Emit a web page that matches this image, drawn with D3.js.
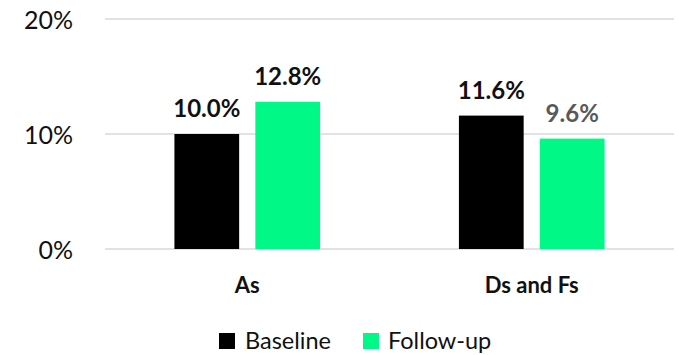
<!DOCTYPE html>
<html>
<head>
<meta charset="utf-8">
<script src="https://cdn.jsdelivr.net/npm/d3@7"></script>
<style>
  html, body { margin: 0; padding: 0; background: #fff; }
  svg { display: block; }
  text { font-family: Lato, "Open Sans", sans-serif; }
</style>
</head>
<body>
<svg id="chart" width="679" height="355"></svg>
<script>
// ---- data ----
const categories = ["As", "Ds and Fs"];
const seriesNames = ["Baseline", "Follow-up"];
const baseline = [10.0, 11.6];
const followUp = [12.8, 9.6];
const yTicks = [0, 10, 20];

// ---- styles ----
const colors = { "Baseline": "#000000", "Follow-up": "#00F986" };
const labelColors = { "Baseline": "#111111", "Follow-up": "#111111" };
const grayLabel = "#595959";

const seriesValues = { "Baseline": baseline, "Follow-up": followUp };
const rows = categories.map((c, i) => ({
  cat: c,
  vals: seriesNames.map(s => ({ series: s, value: seriesValues[s][i] }))
}));

const svg = d3.select("#chart");
const plotLeft = 105, plotRight = 674, plotTop = 19, plotBottom = 249;

const x0 = d3.scaleBand().domain(categories).range([plotLeft, plotRight])
  .paddingInner(0.488).paddingOuter(0.244);
const x1 = d3.scaleBand().domain(seriesNames).range([0, x0.bandwidth()])
  .paddingInner(0.2).paddingOuter(0);
const y = d3.scaleLinear().domain([0, 20]).range([plotBottom, plotTop]);

// gridlines
svg.append("g").selectAll("line").data(yTicks).join("line")
  .attr("x1", plotLeft).attr("x2", plotRight)
  .attr("y1", d => y(d)).attr("y2", d => y(d))
  .attr("stroke", "#d9d9d9").attr("stroke-width", 1.5);

// y axis labels
const yAxis = d3.axisLeft(y).tickValues(yTicks).tickFormat(d => d + "%").tickSize(0).tickPadding(0);
const gy = svg.append("g").attr("transform", `translate(73,0)`).call(yAxis);
gy.select(".domain").remove();
gy.selectAll("text").attr("font-family", "Lato, sans-serif").attr("font-size", 25)
  .attr("fill", "#111").attr("dy", "0.36em");

// bars
const groups = svg.append("g").selectAll("g").data(rows).join("g")
  .attr("transform", d => `translate(${x0(d.cat)},0)`);

groups.selectAll("rect").data(d => d.vals).join("rect")
  .attr("x", d => x1(d.series))
  .attr("width", x1.bandwidth())
  .attr("y", d => y(d.value))
  .attr("height", d => y(0) - y(d.value))
  .attr("fill", d => colors[d.series]);

// value labels
groups.selectAll("text.val").data((d, i) => d.vals.map(v => ({ ...v, ci: i }))).join("text")
  .attr("class", "val")
  .attr("x", d => x1(d.series) + x1.bandwidth() / 2)
  .attr("y", d => y(d.value) - 17)
  .attr("text-anchor", "middle")
  .attr("font-size", 24).attr("font-weight", "bold")
  .attr("fill", d => (d.ci === 1 && d.series === "Follow-up") ? grayLabel : labelColors[d.series])
  .text(d => d.value.toFixed(1) + "%");

// category axis labels
const xAxis = d3.axisBottom(x0).tickSize(0).tickPadding(0);
const gx = svg.append("g").attr("transform", `translate(0,${plotBottom})`).call(xAxis);
gx.select(".domain").remove();
gx.selectAll("text").attr("font-family", "Lato, sans-serif").attr("font-size", 22)
  .attr("font-weight", "bold").attr("fill", "#111").attr("dy", 0).attr("y", 44);

// legend
const legendItems = [{ name: "Baseline", x: 219, tx: 245 }, { name: "Follow-up", x: 363, tx: 388 }];
const lg = svg.append("g");
lg.selectAll("rect").data(legendItems).join("rect")
  .attr("x", d => d.x).attr("y", 333).attr("width", 16).attr("height", 16)
  .attr("fill", d => colors[d.name]);
lg.selectAll("text").data(legendItems).join("text")
  .attr("x", d => d.tx).attr("y", 348.5)
  .attr("font-size", 23.5).attr("fill", "#111")
  .text(d => d.name);
</script>
</body>
</html>
